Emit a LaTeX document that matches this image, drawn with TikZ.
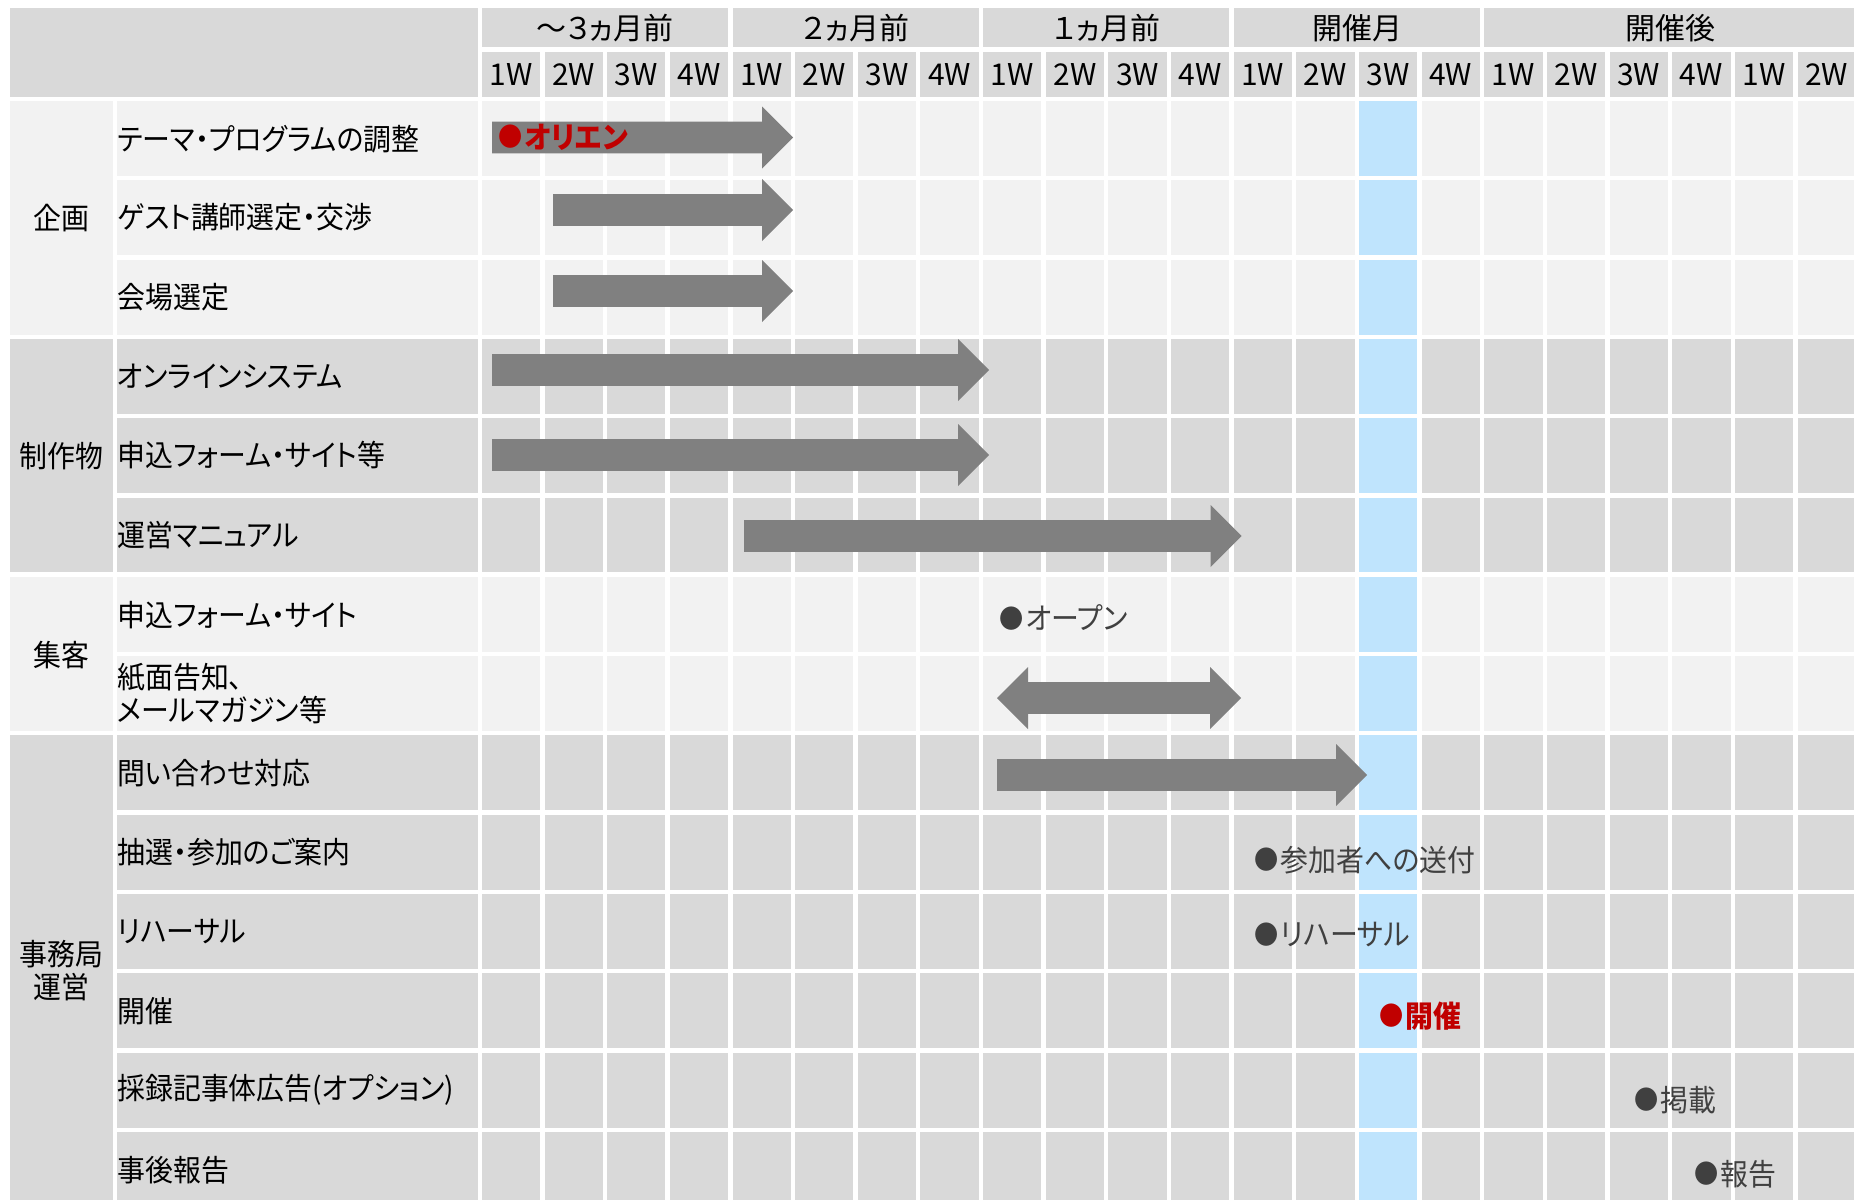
\documentclass[tikz,border=0pt]{standalone}
\usepackage{fontspec}
\setmainfont{Noto Sans CJK JP}[RawFeature=+palt, FakeStretch=0.93]
\newfontfamily\hdfont{Noto Sans CJK JP}[RawFeature=+palt]
\definecolor{cLight}{HTML}{F2F2F2}
\definecolor{cMid}{HTML}{D9D9D9}
\definecolor{cBlue}{HTML}{BFE4FD}
\definecolor{cBar}{HTML}{808080}
\definecolor{cRed}{HTML}{C00000}
\definecolor{cMile}{HTML}{404040}
\newcommand{\mdot}{\raisebox{0.8pt}{\fontsize{13}{14}\selectfont ●}\hspace{1.2pt}}
\tikzset{
  bar/.style={fill=cBar},
  txt/.style={inner sep=0pt, text=black, font=\fontsize{15}{17}\selectfont},
  task/.style={txt, anchor=west},
  cat/.style={txt, align=center},
  head/.style={inner sep=0pt, text=black, font=\hdfont\fontsize{15}{17}\selectfont},
  mile/.style={inner sep=0pt, anchor=west, text=cMile, font=\fontsize{15}{17}\selectfont},
  redmile/.style={inner sep=0pt, anchor=west, text=cRed, font=\fontsize{15}{17}\selectfont\bfseries},
}
% #1 start x, #2 tip x, #3 centre y
\newcommand{\ganttbar}[3]{%
  \fill[bar] (#1,#3-15.8) -- (#2-31,#3-15.8) -- (#2-31,#3-31) -- (#2,#3)
    -- (#2-31,#3+31) -- (#2-31,#3+15.8) -- (#1,#3+15.8) -- cycle;}
\newcommand{\ganttdbar}[3]{%
  \fill[bar] (#1,#3) -- (#1+31,#3-31) -- (#1+31,#3-15.8) -- (#2-31,#3-15.8) -- (#2-31,#3-31) -- (#2,#3)
    -- (#2-31,#3+31) -- (#2-31,#3+15.8) -- (#1+31,#3+15.8) -- (#1+31,#3+31) -- cycle;}
\begin{document}
\begin{tikzpicture}[x=0.5pt,y=-0.5pt]
\useasboundingbox (0,0) rectangle (1854,1200);
\fill[white] (0,0) rectangle (1854,1200);
\clip (0,0) rectangle (1854,1200);
\def\xo{479.7}\def\pw{62.65}\def\yo{98.85}\def\ph{79.3}\def\hg{2.2}
% header
\fill[cMid] (10,8) rectangle (477.5,96.7);
\foreach \a/\b in {0/4,4/8,8/12,12/16,16/22}
  \fill[cMid] ({\xo+\pw*\a+\hg},8) rectangle ({\xo+\pw*\b-\hg},47.3);
\foreach \k in {0,...,21}
  \fill[cMid] ({\xo+\pw*\k+\hg},51.7) rectangle ({\xo+\pw*(\k+1)-\hg},96.7);
% body rows
\foreach \i/\c in {1/cLight,2/cLight,3/cLight,4/cMid,5/cMid,6/cMid,7/cLight,8/cLight,9/cMid,10/cMid,11/cMid,12/cMid,13/cMid,14/cMid} {
  \fill[fill=\c] (117.3,{\yo+\ph*(\i-1)+\hg}) rectangle (477.5,{\yo+\ph*\i-\hg});
  \foreach \k in {0,...,21}
    \fill[fill=\c] ({\xo+\pw*\k+\hg},{\yo+\ph*(\i-1)+\hg}) rectangle ({\xo+\pw*(\k+1)-\hg},{\yo+\ph*\i-\hg});
  \fill[cBlue] ({\xo+\pw*14+\hg},{\yo+\ph*(\i-1)+\hg}) rectangle ({\xo+\pw*15-\hg},{\yo+\ph*\i-\hg});
}
% category cells
\fill[cLight] (10,{\yo+\hg}) rectangle (113.3,{\yo+3*\ph-\hg});
\fill[cMid] (10,{\yo+3*\ph+\hg}) rectangle (113.3,{\yo+6*\ph-\hg});
\fill[cLight] (10,{\yo+6*\ph+\hg}) rectangle (113.3,{\yo+8*\ph-\hg});
\fill[cMid] (10,{\yo+8*\ph+\hg}) rectangle (113.3,{\yo+14*\ph-\hg});
% header texts
\node[head] (mo1) at (605,28) {～３ヵ月前};
\node[head] (mo2) at (856,28) {２ヵ月前};
\node[head] (mo3) at (1107,28) {１ヵ月前};
\node[head] (mo4) at (1357,28) {開催月};
\node[head] (mo5) at (1670,28) {開催後};
\foreach \k in {0,...,21} {
  \pgfmathtruncatemacro\wk{mod(\k,4)+1}
  \node[head] (w\k) at ({\xo+\pw*(\k+0.5)},75) {\wk W};
}
% categories
\node[cat] (c1) at (61.7,218) {企画};
\node[cat] (c2) at (61.7,456) {制作物};
\node[cat] (c3) at (61.7,655) {集客};
\node[cat] (c4) at (61.7,971) {事務局\\[-0.5pt]運営};
% tasks
\node[task] (t1) at (117,139) {テーマ・プログラムの調整};
\node[task] (t2) at (117,217.5) {ゲスト講師選定・交渉};
\node[task] (t3) at (117,297) {会場選定};
\node[task] (t4) at (117,376) {オンラインシステム};
\node[task] (t5) at (117,455) {申込フォーム・サイト等};
\node[task] (t6) at (117,535) {運営マニュアル};
\node[task] (t7) at (117,615) {申込フォーム・サイト};
\node[task, align=left] (t8) at (117,694) {紙面告知、\\[-0.5pt]メールマガジン等};
\node[task] (t9) at (117,773) {問い合わせ対応};
\node[task] (t10) at (117,852) {抽選・参加のご案内};
\node[task] (t11) at (117,932) {リハーサル};
\node[task] (t12) at (117,1011) {開催};
\node[task] (t13) at (117,1090) {採録記事体広告(オプション)};
\node[task] (t14) at (117,1170) {事後報告};
% bars
\ganttbar{492}{793}{137.5}
\ganttbar{553}{793}{210}
\ganttbar{553}{793}{291}
\ganttbar{492}{989}{370}
\ganttbar{492}{989}{455}
\ganttbar{744}{1241.5}{536}
\ganttdbar{997}{1241}{698}
\ganttbar{997}{1367}{775}
% milestones
\node[redmile] (m1) at (498,137) {\mdot オリエン};
\node[mile] (m2) at (999,618) {\mdot オープン};
\node[mile] (m3) at (1254,860) {\mdot 参加者への送付};
\node[mile] (m4) at (1254,935) {\mdot リハーサル};
\node[redmile] (m5) at (1379,1016) {\mdot 開催};
\node[mile] (m6) at (1634,1100) {\mdot 掲載};
\node[mile] (m7) at (1694,1174) {\mdot 報告};
\end{tikzpicture}
\end{document}
